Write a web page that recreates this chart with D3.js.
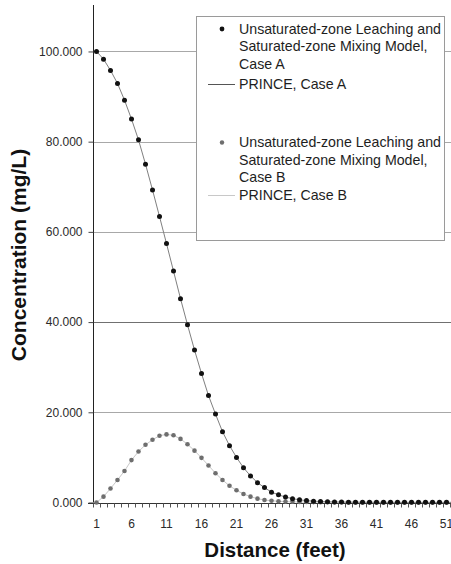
<!DOCTYPE html>
<html><head><meta charset="utf-8">
<script src="https://cdn.jsdelivr.net/npm/d3@7"></script>
<style>
html,body{margin:0;padding:0;background:#fff;overflow:hidden}
svg{display:block;font-family:"Liberation Sans",Arial,sans-serif}
</style></head>
<body>
<script>
// ---- data ----
const distance = d3.range(1, 56); // feet, category axis
const caseA = [100,98.3,95.8,92.9,89.2,85.0,80.4,75.0,69.3,63.4,57.4,51.3,45.2,39.4,33.8,28.6,23.7,19.6,15.7,12.6,
  10.0,7.7,5.9,4.4,3.3,2.3,1.7,1.2,0.85,0.6,0.42,0.3,0.22,0.16,0.12,0.1,0.08,0.07,0.06,0.05,
  0.05,0.04,0.04,0.04,0.03,0.03,0.03,0.03,0.03,0.03,0.03,0.03,0.03,0.03,0.03];
const caseB = [0,1.3,3.1,5.0,7.0,9.4,11.3,12.8,13.9,14.8,15.1,14.9,14.1,12.9,11.5,9.9,8.2,6.5,5.0,3.7,
  2.7,1.9,1.3,0.85,0.55,0.38,0.27,0.2,0.15,0.12,0.1,0.09,0.08,0.07,0.06,0.05,0.05,0.04,0.04,0.04,
  0.03,0.03,0.03,0.03,0.03,0.03,0.03,0.03,0.03,0.03,0.03,0.03,0.03,0.03,0.03];
const princeA = caseA.slice();
const princeB = caseB.slice();
const yTicks = [0,20,40,60,80,100];
const xTickLabels = [1,6,11,16,21,26,31,36,41,46,51];
const legendItems = [
  {type:"dotA", lines:["Unsaturated-zone Leaching and","Saturated-zone Mixing Model,","Case A"]},
  {type:"lineA", lines:["PRINCE, Case A"]},
  {type:"dotB", lines:["Unsaturated-zone Leaching and","Saturated-zone Mixing Model,","Case B"]},
  {type:"lineB", lines:["PRINCE, Case B"]}
];

const W = 451, H = 564;
const svg = d3.select("body").append("svg").attr("width", W).attr("height", H);

const left = 93, bottom = 502.5, band = 7;
const x = d3.scaleBand().domain(distance).range([left, left + band*distance.length]).paddingInner(0).paddingOuter(0);
const y = d3.scaleLinear().domain([0, 110.3]).range([bottom, 5]);
const cx = d => x(d) + x.bandwidth()/2;

// gridlines
svg.append("g").selectAll("line").data(yTicks.filter(d=>d>0)).join("line")
  .attr("x1", left).attr("x2", W).attr("y1", d=>Math.round(y(d))+0.5).attr("y2", d=>Math.round(y(d))+0.5)
  .attr("stroke", d => d === 40 ? "#707070" : "#a8a8a8").attr("stroke-width", 1.2);

// y axis
const yAxis = svg.append("g").attr("transform", `translate(${left+0.5},0)`)
  .call(d3.axisLeft(y).tickValues(yTicks).tickSize(5).tickPadding(6).tickFormat(d3.format(".3f")));
yAxis.select(".domain").attr("stroke", "#222").attr("d", `M0,${y(110.3)}V${bottom}`);
yAxis.selectAll(".tick line").attr("stroke", "#444");
yAxis.selectAll("text").attr("font-size", 12).attr("fill", "#2a2a2a").attr("font-family", "Liberation Sans, Arial");

// x axis
const xAxisG = svg.append("g").attr("transform", `translate(0,${Math.round(bottom)+0.5})`);
xAxisG.append("line").attr("x1", left-5).attr("x2", W).attr("stroke", "#333");
xAxisG.selectAll("line.tk").data(distance).join("line").attr("class","tk")
  .attr("x1", d=>Math.round(x(d))+0.5).attr("x2", d=>Math.round(x(d))+0.5)
  .attr("y1", 0).attr("y2", 4).attr("stroke", "#555");
xAxisG.selectAll("text").data(xTickLabels).join("text")
  .attr("x", d=>cx(d)).attr("y", 24).attr("text-anchor", "middle")
  .attr("font-size", 12).attr("fill", "#2a2a2a").text(d=>d);

// lines
const line = d3.line().x((d,i)=>cx(distance[i])).y(d=>y(d));
svg.append("path").datum(princeB).attr("d", line).attr("fill","none").attr("stroke","#c8c8c8").attr("stroke-width",1);
svg.append("path").datum(princeA).attr("d", line).attr("fill","none").attr("stroke","#808080").attr("stroke-width",1);

// points
svg.append("g").selectAll("circle").data(caseB).join("circle")
  .attr("cx",(d,i)=>cx(distance[i])).attr("cy", d=>y(d)).attr("r", 2.3).attr("fill", "#6e6e6e");
svg.append("g").selectAll("circle").data(caseA).join("circle")
  .attr("cx",(d,i)=>cx(distance[i])).attr("cy", d=>y(d)).attr("r", 2.5).attr("fill", "#111");

// legend
const lg = svg.append("g");
lg.append("rect").attr("x", 196.5).attr("y", 16.5).attr("width", 248).attr("height", 224)
  .attr("fill", "#fff").attr("stroke", "#9a9a9a");
const tx = 239, lh = 17.5;
const starts = [33.5, 89, 147, 200];
legendItems.forEach((it, k) => {
  const y0 = starts[k];
  it.lines.forEach((t, j) => {
    lg.append("text").attr("x", tx).attr("y", y0 + j*lh).attr("font-size", 14.2).attr("fill", "#1e1e1e").text(t);
  });
  if (it.type === "dotA") lg.append("circle").attr("cx", 222).attr("cy", y0-4.5).attr("r", 2.4).attr("fill", "#111");
  if (it.type === "dotB") lg.append("circle").attr("cx", 222).attr("cy", y0-4.5).attr("r", 2.2).attr("fill", "#6e6e6e");
  if (it.type === "lineA") lg.append("line").attr("x1", 208).attr("x2", 235).attr("y1", y0-4.5).attr("y2", y0-4.5).attr("stroke", "#555");
  if (it.type === "lineB") lg.append("line").attr("x1", 208).attr("x2", 235).attr("y1", y0-4.5).attr("y2", y0-4.5).attr("stroke", "#c8c8c8");
});

// axis titles
svg.append("text").attr("x", 275).attr("y", 557).attr("text-anchor","middle")
  .attr("font-size", 20.5).attr("font-weight","bold").attr("fill","#111").text("Distance (feet)");
svg.append("text").attr("transform","translate(26,255) rotate(-90)").attr("text-anchor","middle")
  .attr("font-size", 21).attr("font-weight","bold").attr("fill","#111").text("Concentration (mg/L)");
</script>
</body></html>
